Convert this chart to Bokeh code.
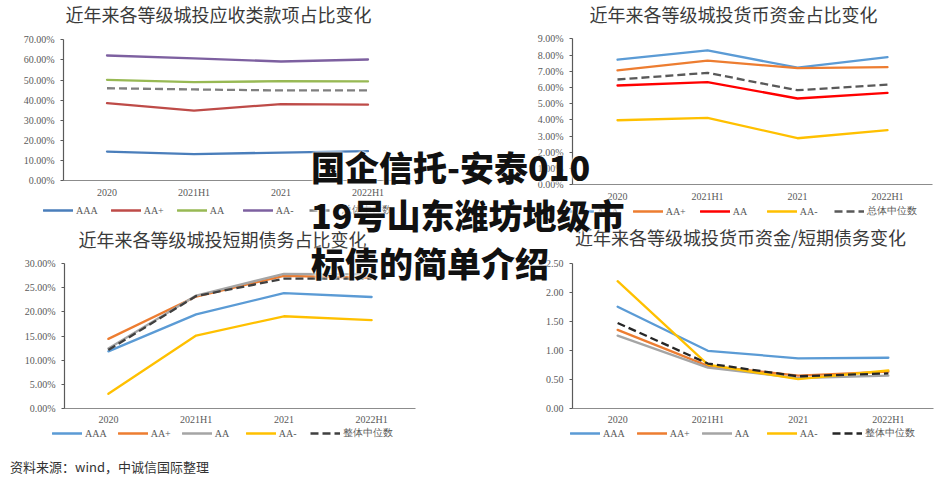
from bokeh.plotting import figure
from bokeh.models import (Range1d, LinearAxis, FixedTicker, Legend, LegendItem, Label,
                          PrintfTickFormatter, Div, InlineStyleSheet)
from bokeh.layouts import row, column
from bokeh.embed import file_html
from bokeh.resources import INLINE

periods = ["2020", "2021H1", "2021", "2022H1"]

# 应收类款项占比 (%)
recv_title = "近年来各等级城投应收类款项占比变化"
recv_aaa = [14.4, 13.1, 13.9, 14.6]
recv_aa_plus = [38.5, 34.8, 38.0, 37.7]
recv_aa = [50.1, 48.9, 49.4, 49.3]
recv_aa_minus = [62.2, 60.8, 59.2, 60.2]
recv_median = [45.9, 45.3, 44.8, 44.8]
recv_ticks = [0, 10, 20, 30, 40, 50, 60, 70]

# 货币资金占比 (%)
cash_title = "近年来各等级城投货币资金占比变化"
cash_aaa = [7.71, 8.28, 7.22, 7.87]
cash_aa_plus = [7.05, 7.66, 7.19, 7.25]
cash_aa = [6.12, 6.33, 5.32, 5.67]
cash_aa_minus = [3.98, 4.13, 2.87, 3.37]
cash_median = [6.49, 6.90, 5.83, 6.17]
cash_ticks = [0, 1, 2, 3, 4, 5, 6, 7, 8, 9]

# 短期债务占比 (%)
std_title = "近年来各等级城投短期债务占比变化"
std_aaa = [11.8, 19.5, 23.9, 23.1]
std_aa_plus = [14.4, 23.2, 27.5, 27.1]
std_aa = [12.4, 23.4, 27.9, 27.8]
std_aa_minus = [3.0, 15.1, 19.1, 18.3]
std_median = [12.1, 23.3, 26.9, 26.9]
std_ticks = [0, 5, 10, 15, 20, 25, 30]

# 货币资金/短期债务
ratio_title = "近年来各等级城投货币资金/短期债务变化"
ratio_aaa = [1.75, 0.99, 0.86, 0.87]
ratio_aa_plus = [1.35, 0.73, 0.56, 0.63]
ratio_aa = [1.25, 0.70, 0.52, 0.56]
ratio_aa_minus = [2.19, 0.75, 0.50, 0.65]
ratio_median = [1.47, 0.77, 0.55, 0.60]
ratio_ticks = [0, 0.5, 1.0, 1.5, 2.0, 2.5]

labels_a = ["AAA", "AA+", "AA", "AA-", "总体中位数"]
labels_b = ["AAA", "AA+", "AA", "AA-", "整体中位数"]

source_note = "资料来源：wind，中诚信国际整理"
overlay_title = ["国企信托-安泰010", "19号山东潍坊地级市", "标债的简单介绍"]

SERIF = "Liberation Serif"
CJK = "Noto Sans CJK SC"

xs = list(range(len(periods)))


def fit_range(v0, v1, p0, p1, size):
    """Range whose values v0, v1 land at pixels p0, p1 of a canvas of given size."""
    k = (v1 - v0) / (p1 - p0)
    return Range1d(v0 - p0 * k, v0 + (size - p0) * k)


def make_chart(title, series, labels, colors, dashes, ticks, fmt,
               width, height, xpix, ypix, title_pos, legend_loc, spacing):
    x_lo, x_hi = xs[0] - 0.5, xs[-1] + 0.5
    p = figure(width=width, height=height, output_backend="svg",
               toolbar_location=None, x_axis_type=None, y_axis_type=None,
               x_range=fit_range(x_lo, x_hi, xpix[0], xpix[1], width),
               y_range=fit_range(ticks[0], ticks[-1], ypix[0], ypix[1], height),
               min_border=0, min_border_left=0, min_border_right=0,
               min_border_top=0, min_border_bottom=0)
    p.outline_line_color = None
    p.grid.visible = False
    p.background_fill_color = "white"
    p.border_fill_color = "white"

    xaxis = LinearAxis(fixed_location=ticks[0], bounds=(x_lo, x_hi),
                       ticker=FixedTicker(ticks=xs),
                       major_label_overrides={i: lab for i, lab in zip(xs, periods)})
    xaxis.major_tick_line_color = None
    xaxis.major_tick_out = 0
    xaxis.major_tick_in = 0
    xaxis.minor_tick_line_color = None
    xaxis.axis_line_color = "#8c8c8c"
    xaxis.axis_line_width = 1.2
    xaxis.major_label_text_font = SERIF
    xaxis.major_label_text_font_size = "10px"
    xaxis.major_label_text_color = "#595959"
    xaxis.major_label_standoff = 6
    p.add_layout(xaxis, "below")

    yaxis = LinearAxis(fixed_location=x_lo, bounds=(ticks[0], ticks[-1]),
                       ticker=FixedTicker(ticks=ticks),
                       formatter=PrintfTickFormatter(format=fmt))
    yaxis.axis_line_color = "#5a5a5a"
    yaxis.axis_line_width = 1.2
    yaxis.major_tick_line_color = "#5a5a5a"
    yaxis.major_tick_out = 3
    yaxis.major_tick_in = 0
    yaxis.minor_tick_line_color = None
    yaxis.major_label_text_font = SERIF
    yaxis.major_label_text_font_size = "10px"
    yaxis.major_label_text_color = "#595959"
    yaxis.major_label_standoff = 6
    p.add_layout(yaxis, "left")

    items = []
    for vals, lab, col, dash in zip(series, labels, colors, dashes):
        r = p.line(x=xs, y=vals, line_color=col, line_width=2.3,
                   line_dash=dash, line_cap="butt" if dash != "solid" else "round")
        items.append(LegendItem(label=lab, renderers=[r]))

    leg = Legend(items=items, location=legend_loc, orientation="horizontal",
                 glyph_width=30, glyph_height=12, label_height=12,
                 label_standoff=3, spacing=spacing, padding=0, margin=0,
                 border_line_alpha=0, background_fill_alpha=0,
                 label_text_font=SERIF, label_text_font_size="10px",
                 label_text_color="#595959", label_text_baseline="middle")
    p.add_layout(leg)

    p.add_layout(Label(x=title_pos[0], y=title_pos[1], x_units="screen",
                       y_units="screen", text=title, text_align="center",
                       text_baseline="middle", text_font=CJK,
                       text_font_size="18px", text_color="#3a3a3a"))
    return p


pal_a = ["#4a7ebb", "#be4b48", "#98b954", "#7d60a0", "#7f7f7f"]
pal_b = ["#5b9bd5", "#ed7d31", "#ff0000", "#ffc000", "#595959"]
pal_c = ["#5b9bd5", "#ed7d31", "#a5a5a5", "#ffc000", "#404040"]
pal_d = ["#5b9bd5", "#ed7d31", "#a5a5a5", "#ffc000", "#262626"]
dashes = ["solid", "solid", "solid", "solid", "8 4"]

# pixel positions are measured from the canvas left and bottom
tl = make_chart(recv_title,
                [recv_aaa, recv_aa_plus, recv_aa, recv_aa_minus, recv_median],
                labels_a, pal_a, dashes, recv_ticks, "%.2f%%",
                470, 220, (63, 411), (40, 180.7), (218, 207), (43, 3), 13)
tr = make_chart(cash_title,
                [cash_aaa, cash_aa_plus, cash_aa, cash_aa_minus, cash_median],
                labels_a, pal_b, dashes, cash_ticks, "%.2f%%",
                464, 220, (102, 462), (35.7, 181.7), (263, 207), (94, 2), 14)
bl = make_chart(std_title,
                [std_aaa, std_aa_plus, std_aa, std_aa_minus, std_median],
                labels_b, pal_c, dashes, std_ticks, "%.2f%%",
                470, 262, (64, 415), (74.3, 218.7), (222, 244), (52, 42), 11)
br = make_chart(ratio_title,
                [ratio_aaa, ratio_aa_plus, ratio_aa, ratio_aa_minus, ratio_median],
                labels_b, pal_d, dashes, ratio_ticks, "%.2f",
                464, 262, (102, 463), (74.3, 219.3), (270, 246), (100, 42), 12)

overlay = Div(
    text="<br>".join(overlay_title),
    styles={"font-family": "'Noto Sans CJK SC', sans-serif", "font-weight": "900",
            "font-size": "34px", "line-height": "48px", "color": "#111111",
            "white-space": "nowrap",
            "text-shadow": "0 0 3px #ffffff, 0 0 3px #ffffff"},
    stylesheets=[InlineStyleSheet(css=":host{position:absolute !important;"
                                      "left:306px !important;top:138px !important;"
                                      "z-index:10 !important;}")])

note = Div(
    text=source_note,
    styles={"font-family": "'Noto Sans CJK SC', serif", "font-size": "13px",
            "line-height": "16px", "color": "#333333", "white-space": "nowrap"},
    stylesheets=[InlineStyleSheet(css=":host{position:absolute !important;"
                                      "left:5px !important;top:454px !important;"
                                      "z-index:5 !important;}")])

layout = column(row(tl, tr), row(bl, br), overlay, note)

open("out.html", "w").write(file_html(layout, INLINE))
